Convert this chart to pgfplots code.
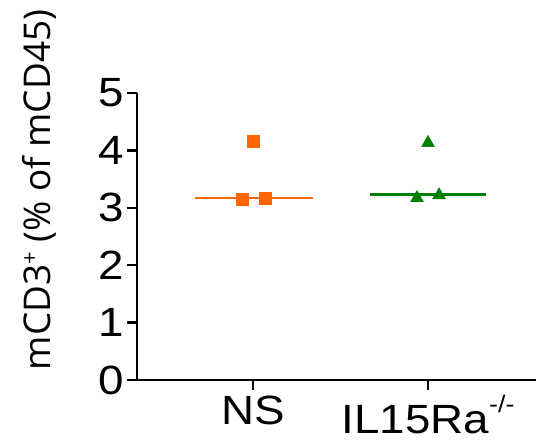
\documentclass[border=0pt]{standalone}
\usepackage{fontspec}
\setmainfont{Liberation Sans}
\newfontfamily\labelfont{Open Sans}
\usepackage{pgfplots}
\pgfplotsset{compat=1.18}
\definecolor{nsorange}{HTML}{FF6600}
\definecolor{ilgreen}{HTML}{008000}

\begin{document}
\begin{tikzpicture}
\useasboundingbox (-137bp,-64bp) rectangle (399bp,380bp);
\begin{axis}[
    scale only axis, width=399bp, height=287bp,
    xmin=0.337, xmax=2.617, ymin=0, ymax=5,
    axis lines=left, axis line style={line width=2.4bp, -},
    xtick={1,2},
    xticklabels={NS, IL15Ra\raisebox{21bp}{\fontsize{24}{24}\selectfont -/-}},
    ytick={0,1,2,3,4,5},
    tick style={line width=2.4bp, black},
    tick align=outside, major tick length=10bp,
    /pgf/number format/assume math mode=true,
    tick label style={font=\fontsize{41}{41}\selectfont, xscale=1.12},
    yticklabel style={xshift=1bp},
    xticklabel style={yshift=-2bp},
    ylabel={\labelfont mCD3\raisebox{13bp}{\fontsize{22}{22}\selectfont +} (\% of mCD45)},
    ylabel style={font=\fontsize{37}{37}\selectfont, at={(axis description cs:-0.245,0.662)}, anchor=center, rotate=0},
    clip=false,
]
% NS
\addplot[only marks, mark=square*, mark size=6bp, color=nsorange] coordinates {(0.937,3.15) (1.069,3.17) (1.0,4.16)};
\addplot[nsorange, line width=2.7bp] coordinates {(0.67,3.17) (1.34,3.17)};
% IL15Ra-/-
\addplot[only marks, mark=triangle*, mark size=7.5bp, color=ilgreen] coordinates {(1.937,3.17) (2.063,3.22) (2.0,4.13)};
\addplot[ilgreen, line width=2.7bp] coordinates {(1.67,3.23) (2.33,3.23)};
\end{axis}
\end{tikzpicture}
\end{document}
